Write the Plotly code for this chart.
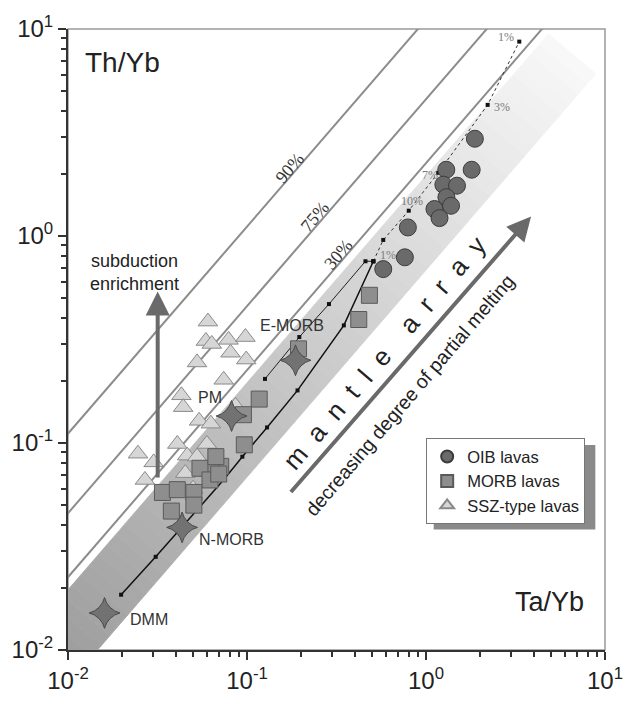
import math
import plotly.graph_objects as go

# ---------------- data (Ta/Yb, Th/Yb) ----------------
oib_x = [1.875, 1.298, 1.80, 1.25, 1.49, 1.30, 1.38, 1.115, 1.19, 0.792, 0.762, 0.577]
oib_y = [2.95, 2.09, 2.09, 1.77, 1.75, 1.54, 1.40, 1.35, 1.22, 1.10, 0.789, 0.692]

morb_x = [0.483, 0.421, 0.194, 0.117, 0.0955, 0.0966, 0.0713, 0.0628, 0.0546, 0.0621,
          0.067, 0.0337, 0.0408, 0.0505, 0.0505, 0.0378, 0.0695]
morb_y = [0.517, 0.395, 0.285, 0.163, 0.137, 0.098, 0.0771, 0.0747, 0.0755, 0.0663,
          0.0859, 0.0577, 0.0595, 0.0577, 0.0501, 0.0469, 0.0708]

ssz_x = [0.0605, 0.0589, 0.0636, 0.0789, 0.098, 0.0809, 0.099, 0.0526, 0.0741, 0.043,
         0.044, 0.0863, 0.054, 0.0628, 0.0246, 0.0301, 0.0269, 0.0408, 0.0597, 0.0463,
         0.0526, 0.0452, 0.05]
ssz_y = [0.386, 0.311, 0.301, 0.315, 0.325, 0.273, 0.253, 0.245, 0.202, 0.170,
         0.149, 0.151, 0.128, 0.124, 0.0888, 0.0806, 0.0663, 0.0989, 0.0989, 0.0869,
         0.0859, 0.0715, 0.0601]

ref_names = ["DMM", "N-MORB", "PM", "E-MORB"]
ref_x = [0.016, 0.0434, 0.082, 0.1866]
ref_y = [0.0151, 0.0391, 0.135, 0.251]

# melting curves
dmm_curve_x = [0.0198, 0.0309, 0.0741, 0.0942, 0.1294, 0.1915, 0.3475, 0.508]
dmm_curve_y = [0.0185, 0.0282, 0.0664, 0.0859, 0.1189, 0.1795, 0.370, 0.755]
emorb_curve_x = [0.126, 0.196, 0.287, 0.459, 0.508]
emorb_curve_y = [0.204, 0.325, 0.469, 0.755, 0.755]
oib_curve_x = [0.508, 0.577, 0.801, 1.17, 2.21, 3.32]
oib_curve_y = [0.755, 0.957, 1.325, 2.02, 4.30, 8.69]

# Th/Ta reference lines
line_labels = ["90%", "75%", "30%"]
line_ratios = [11.1, 4.58, 2.25]

# mantle array band (Th/Ta bounds) and its upper end
band_lo, band_hi = 0.684, 1.955
band_end = (6.58, 7.55)

tick_vals = [0.01, 0.1, 1, 10]
tick_text = ["10<sup>-2</sup>", "10<sup>-1</sup>", "10<sup>0</sup>", "10<sup>1</sup>"]
minor_vals = [m * 10 ** e for e in (-2, -1, 0) for m in range(2, 10)]

# ---------------- figure ----------------
W, H = 635, 706
ML, MR, MT, MB = 62, 28, 20, 47
SX = (W - ML - MR) / 3.0   # px per decade
SY = (H - MT - MB) / 3.0
K = SY * SY / (SX * SX + SY * SY)

fig = go.Figure()

# gradient band built from slices perpendicular (on screen) to its axis
def along(lx, ly):
    return (lx * SX * SX + ly * SY * SY) / (SX * SX + SY * SY)

def band_corner(s, c):
    t = s - c * K
    return 10 ** t, 10 ** (t + c)

c_lo, c_hi = math.log10(band_lo), math.log10(band_hi)
s_end = along(math.log10(band_end[0]), math.log10(band_end[1]))
s_start = -2.6
N = 70
for i in range(N):
    sa = s_start + (s_end - s_start) * i / N
    sb = s_start + (s_end - s_start) * (i + 1) / N
    sm = 0.5 * (sa + sb)
    g = int(max(140, min(250, 165 + (sm + 1.81) * 31.5)))
    col = f"rgb({g},{g},{g})"
    p1 = band_corner(sa, c_lo)
    p2 = band_corner(sb, c_lo)
    p3 = band_corner(sb, c_hi)
    p4 = band_corner(sa, c_hi)
    fig.add_trace(go.Scatter(x=[p1[0], p2[0], p3[0], p4[0], p1[0]],
                             y=[p1[1], p2[1], p3[1], p4[1], p1[1]],
                             mode="lines", fill="toself", fillcolor=col,
                             line=dict(color=col, width=0.8),
                             showlegend=False, hoverinfo="skip"))

# reference lines
for r in line_ratios:
    xs = [0.001, 100]
    fig.add_trace(go.Scatter(x=xs, y=[v * r for v in xs], mode="lines",
                             line=dict(color="#8c8c8c", width=2),
                             showlegend=False, hoverinfo="skip"))

# melting curves
fig.add_trace(go.Scatter(x=dmm_curve_x, y=dmm_curve_y, mode="lines+markers",
                         line=dict(color="#111", width=1.5),
                         marker=dict(symbol="square", size=4, color="#111"),
                         showlegend=False, hoverinfo="skip"))
fig.add_trace(go.Scatter(x=emorb_curve_x, y=emorb_curve_y, mode="lines+markers",
                         line=dict(color="#222", width=1),
                         marker=dict(symbol="square", size=4, color="#111"),
                         showlegend=False, hoverinfo="skip"))
fig.add_trace(go.Scatter(x=oib_curve_x, y=oib_curve_y, mode="lines+markers",
                         line=dict(color="#333", width=1, dash="dot"),
                         marker=dict(symbol="square", size=4, color="#111"),
                         showlegend=False, hoverinfo="skip"))

# data points
fig.add_trace(go.Scatter(x=ssz_x, y=ssz_y, mode="markers", name="SSZ-type lavas",
                         marker=dict(symbol="triangle-up", size=17, color="#d6d6d6",
                                     line=dict(color="#8a8a8a", width=1))))
fig.add_trace(go.Scatter(x=morb_x, y=morb_y, mode="markers", name="MORB lavas",
                         marker=dict(symbol="square", size=16, color="#8e8e8e",
                                     line=dict(color="#5a5a5a", width=1))))
fig.add_trace(go.Scatter(x=oib_x, y=oib_y, mode="markers", name="OIB lavas",
                         marker=dict(symbol="circle", size=17, color="#6a6a6a",
                                     line=dict(color="#3c3c3c", width=1))))
fig.add_trace(go.Scatter(x=ref_x, y=ref_y, mode="markers",
                         marker=dict(symbol="star-diamond", size=22, color="#727272",
                                     line=dict(color="#4a4a4a", width=1)),
                         showlegend=False, hoverinfo="skip"))

ANG = -math.degrees(math.atan2(SY, SX))
SANS = "Liberation Sans, Arial, sans-serif"
SERIF = "Liberation Serif, Times New Roman, serif"

def ann(text, lx, ly, size, xanchor="center", angle=0, family=SANS, color="#222"):
    fig.add_annotation(x=lx, y=ly, xref="x", yref="y", text=text, showarrow=False,
                       xanchor=xanchor, yanchor="middle", textangle=angle,
                       font=dict(size=size, family=family, color=color))

ann("Th/Yb", -1.917, 0.836, 28, "left")
ann("Ta/Yb", 0.895, -1.770, 27, "right")
ann("subduction<br>enrichment", -1.626, -0.178, 18)
ann("DMM", -1.664, -1.854, 16, "left", color="#333")
ann("N-MORB", -1.279, -1.465, 16, "left", color="#333")
ann("PM", -1.285, -0.779, 16, "left", color="#333")
ann("E-MORB", -0.938, -0.432, 16, "left", color="#333")
for t, lx, ly in zip(line_labels, [-0.762, -0.624, -0.487], [0.329, 0.094, -0.089]):
    ann(t, lx, ly, 18, angle=ANG, family=SERIF, color="#333")
for t, lx, ly in zip(["1%", "3%", "7%", "10%", "1%"],
                     [0.449, 0.427, 0.025, -0.079, -0.211],
                     [0.960, 0.624, 0.296, 0.170, -0.094]):
    ann(t, lx, ly, 12, family=SERIF, color="#7a7a7a")
ann("m  a  n  t  l  e    a  r  r  a  y", -0.233, -0.563, 26, angle=ANG, color="#222")
ann("decreasing degree of partial melting", -0.090, -0.770, 19.5, angle=ANG, color="#222")

# arrows
fig.add_annotation(x=math.log10(0.0317), y=math.log10(0.54), ax=math.log10(0.0317),
                   ay=math.log10(0.067), xref="x", yref="y", axref="x", ayref="y",
                   text="", showarrow=True, arrowhead=2, arrowsize=1.2, arrowwidth=4,
                   arrowcolor="#6a6a6a")
fig.add_annotation(x=0.587, y=0.094, ax=-0.762, ay=-1.244,
                   xref="x", yref="y", axref="x", ayref="y",
                   text="", showarrow=True, arrowhead=2, arrowsize=1.2, arrowwidth=4,
                   arrowcolor="#6a6a6a")

# frame and legend shadow
fig.add_shape(type="rect", xref="x domain", yref="y domain", x0=0, x1=1, y0=0, y1=1,
              line=dict(color="#9a9a9a", width=1.5), layer="below")
fig.add_shape(type="rect", xref="paper", yref="paper", x0=0.681, x1=0.982, y0=0.194, y1=0.330,
              line=dict(width=0), fillcolor="#8a8a8a", layer="above")

axis_common = dict(type="log", range=[-2, 1], tickvals=tick_vals, ticktext=tick_text,
                   ticks="outside", ticklen=8, tickwidth=2, tickcolor="#333",
                   showline=True, linecolor="#333", linewidth=2, mirror=False,
                   showgrid=False, zeroline=False,
                   tickfont=dict(size=24, family=SANS, color="#222"),
                   minor=dict(tickvals=minor_vals, ticks="outside", ticklen=5, tickwidth=1.5,
                              tickcolor="#333", showgrid=False))

fig.update_layout(width=W, height=H, margin=dict(l=ML, r=MR, t=MT, b=MB),
                  paper_bgcolor="white", plot_bgcolor="white",
                  xaxis=axis_common, yaxis=axis_common,
                  showlegend=True,
                  legend=dict(x=0.667, y=0.341, xanchor="left", yanchor="top",
                              bgcolor="white", bordercolor="#777", borderwidth=1,
                              font=dict(size=16.5, family=SANS, color="#222"),
                              itemsizing="constant", traceorder="reversed"))

fig.write_html("out.html")
